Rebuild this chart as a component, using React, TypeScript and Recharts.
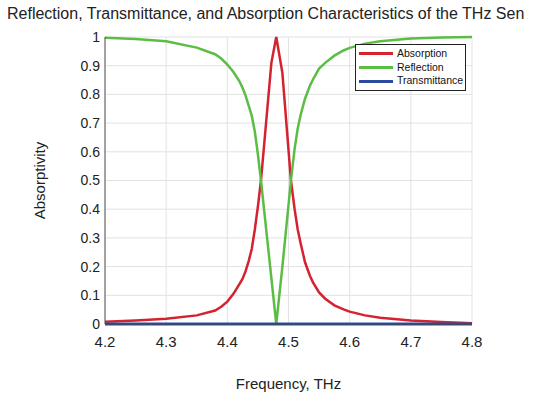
import React from 'react';
import {
  LineChart,
  Line,
  XAxis,
  YAxis,
  CartesianGrid,
  Legend,
} from 'recharts';

// frequency samples (THz)
const freq = [
  4.2, 4.25, 4.3, 4.35, 4.38, 4.39, 4.4, 4.41, 4.42, 4.425, 4.43, 4.435, 4.44,
  4.445, 4.45, 4.455, 4.472, 4.48, 4.49, 4.504, 4.51, 4.515, 4.52, 4.527, 4.535,
  4.54, 4.55, 4.56, 4.575, 4.59, 4.6, 4.625, 4.65, 4.7, 4.75, 4.8,
];
const absorption = [
  0.008, 0.012, 0.018, 0.03, 0.047, 0.06, 0.078, 0.105, 0.14, 0.158, 0.185,
  0.22, 0.262, 0.33, 0.41, 0.5, 0.91, 1.0, 0.875, 0.5, 0.4, 0.33, 0.28, 0.215,
  0.168, 0.145, 0.11, 0.088, 0.065, 0.051, 0.043, 0.03, 0.022, 0.012, 0.007,
  0.003,
];
const reflection = [
  0.997, 0.993, 0.985, 0.963, 0.94, 0.925, 0.904, 0.878, 0.845, 0.822, 0.795,
  0.76, 0.725, 0.67, 0.59, 0.5, 0.16, 0.0, 0.2, 0.5, 0.61, 0.68, 0.73, 0.785,
  0.83, 0.852, 0.89, 0.91, 0.935, 0.953, 0.962, 0.977, 0.985, 0.995, 0.998,
  1.0,
];
const transmittance = freq.map(() => 0);

const xTicks = [4.2, 4.3, 4.4, 4.5, 4.6, 4.7, 4.8];
const yTicks = [0, 0.1, 0.2, 0.3, 0.4, 0.5, 0.6, 0.7, 0.8, 0.9, 1];

const data = freq.map((f, i) => ({
  f,
  absorption: absorption[i],
  reflection: reflection[i],
  transmittance: transmittance[i],
}));

const FONT = '"Liberation Sans", Arial, sans-serif';

const LegendBox = ({ payload }: any) => (
  <div
    style={{
      border: '1px solid #222',
      background: '#fff',
      padding: '2px 2px 2px 3px',
      fontFamily: FONT,
      fontSize: 10.5,
      lineHeight: '13.7px',
      color: '#111',
    }}
  >
    {(payload || []).map((p: any) => (
      <div key={p.value} style={{ display: 'flex', alignItems: 'center' }}>
        <span
          style={{
            display: 'inline-block',
            width: 34,
            height: 3,
            background: p.color,
            marginRight: 4,
          }}
        />
        {p.value}
      </div>
    ))}
  </div>
);

const App = () => {
  return (
    <div
      style={{
        position: 'absolute',
        left: 0,
        top: 0,
        width: 550,
        height: 402,
        background: '#fff',
        overflow: 'hidden',
        fontFamily: FONT,
      }}
    >
      <div
        style={{
          position: 'absolute',
          top: 5,
          left: 7,
          whiteSpace: 'nowrap',
          fontSize: 16,
          color: '#222',
        }}
      >
        Reflection, Transmittance, and Absorption Characteristics of the THz Sen
      </div>
      <LineChart
        width={550}
        height={402}
        data={data}
        margin={{ top: 37, right: 78, left: 65, bottom: 48 }}
        style={{ fontFamily: FONT }}
      >
        <CartesianGrid stroke="#e2e2e2" />
        <XAxis
          dataKey="f"
          type="number"
          domain={[4.2, 4.8]}
          ticks={xTicks}
          tickFormatter={(v) => v.toFixed(1)}
          tickLine={false}
          tickSize={0}
          tickMargin={12}
          height={30}
          axisLine={{ stroke: '#444' }}
          tick={{ fontSize: 15, fill: '#222' }}
          label={{
            value: 'Frequency, THz',
            position: 'bottom',
            offset: 24,
            style: { fontSize: 15, fill: '#222' },
          }}
        />
        <XAxis
          xAxisId="top"
          dataKey="f"
          type="number"
          orientation="top"
          domain={[4.2, 4.8]}
          ticks={xTicks}
          mirror
          tick={false}
          tickSize={4}
          height={0}
          axisLine={{ stroke: '#444' }}
          tickLine={{ stroke: '#444' }}
        />
        <YAxis
          type="number"
          domain={[0, 1]}
          ticks={yTicks}
          tickFormatter={(v) => String(+v.toFixed(1))}
          tickLine={false}
          tickSize={0}
          tickMargin={5}
          width={40}
          axisLine={{ stroke: '#555' }}
          tick={{ fontSize: 14, fill: '#222' }}
          label={{
            value: 'Absorptivity',
            angle: -90,
            position: 'left',
            offset: 25,
            style: { fontSize: 15, fill: '#222', textAnchor: 'middle' },
          }}
        />
        <YAxis
          yAxisId="right"
          type="number"
          orientation="right"
          domain={[0, 1]}
          ticks={yTicks}
          mirror
          tick={false}
          tickSize={4}
          width={0}
          axisLine={{ stroke: '#999' }}
          tickLine={{ stroke: '#444' }}
        />
        <Legend
          layout="vertical"
          align="center"
          verticalAlign="middle"
          content={<LegendBox />}
          wrapperStyle={{ top: 44, left: 355, width: 'auto' }}
        />
        <Line
          type="linear"
          dataKey="absorption"
          name="Absorption"
          stroke="#d42230"
          strokeWidth={2.5}
          dot={false}
          isAnimationActive={false}
        />
        <Line
          type="linear"
          dataKey="reflection"
          name="Reflection"
          stroke="#5cbd45"
          strokeWidth={2.5}
          dot={false}
          isAnimationActive={false}
        />
        <Line
          type="linear"
          dataKey="transmittance"
          name="Transmittance"
          stroke="#2b4c9e"
          strokeWidth={3}
          dot={false}
          isAnimationActive={false}
        />
      </LineChart>
    </div>
  );
};

export default App;
